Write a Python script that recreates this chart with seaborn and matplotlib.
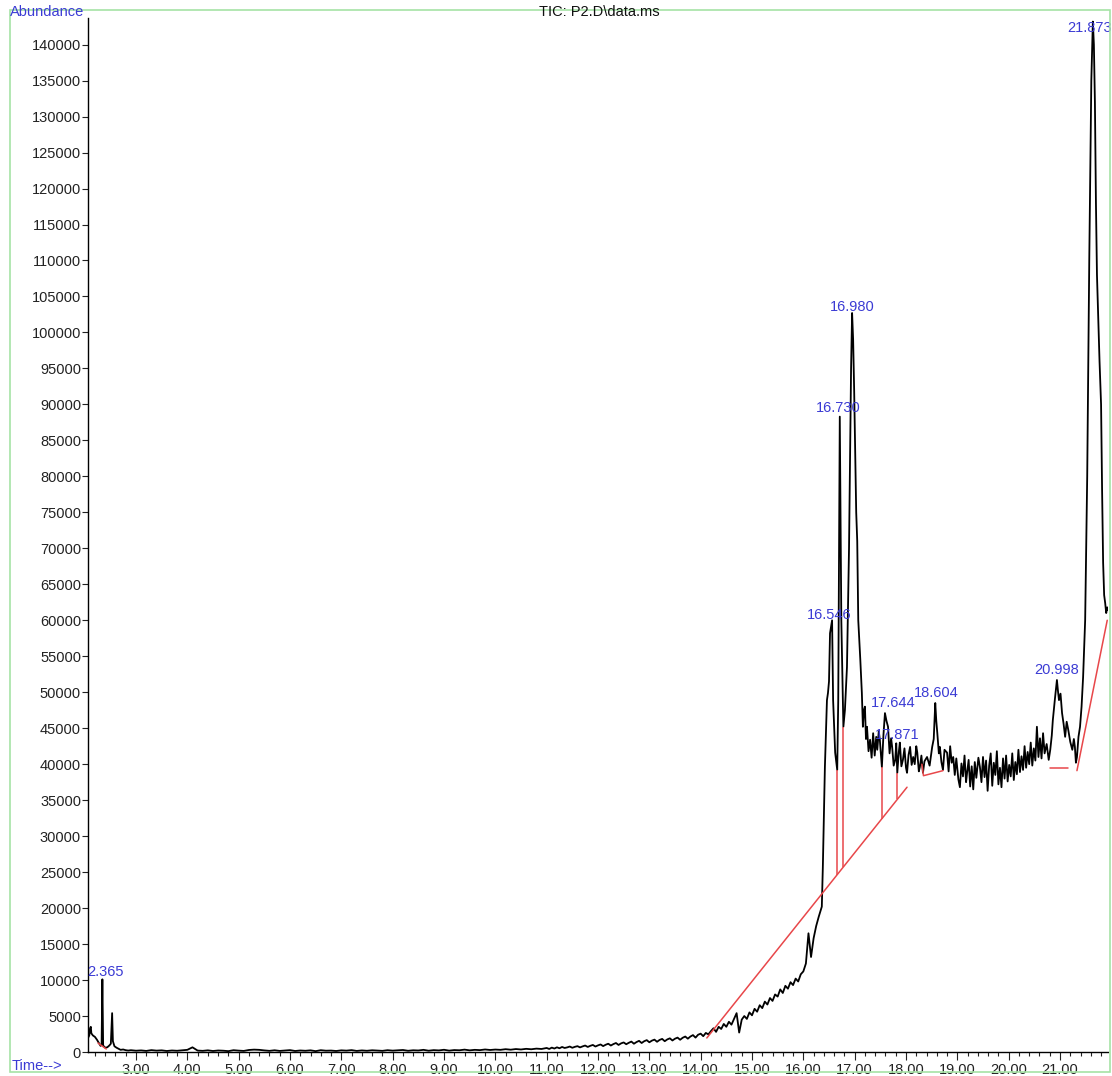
"""
TIC chromatogram P2.D (recreated from the picture)
"""
import numpy as np
import pandas as pd
import seaborn as sns
import matplotlib
matplotlib.use("Agg")
import matplotlib.pyplot as plt
from matplotlib.patches import Rectangle
from matplotlib.ticker import MultipleLocator, FormatStrFormatter

# ---- data ----
# start of the run (min, abundance)
front_t = [2.065, 2.09, 2.105, 2.12, 2.13, 2.16, 2.20, 2.24, 2.28, 2.31, 2.33, 2.345,
           2.36, 2.40, 2.44, 2.48, 2.51, 2.535, 2.55, 2.58, 2.62, 2.66, 2.70, 2.75,
           2.80, 2.85]
front_ab = [1950, 2300, 3300, 3500, 2600, 2300, 2100, 1700, 1200, 850, 1000, 10100,
            900, 600, 650, 900, 1150, 5400, 1500, 800, 600, 450, 300, 350,
            250, 200]

# flat part, one reading every 0.1 min from 2.9
flat_start, flat_step = 2.9, 0.1
flat_ab = [250, 180, 220, 150, 260, 190, 230, 140, 210, 170,
           240, 300, 650, 200, 160, 230, 140, 210, 180, 120,
           250, 190, 150, 280, 330, 300, 220, 160, 240, 150,
           200, 260, 140, 210, 170, 230, 120, 250, 180, 200,
           140, 230, 190, 260, 150, 220, 170, 240, 200, 160,
           250, 190, 230, 280, 170, 240, 210, 300, 180, 260,
           220, 310, 190, 270, 240, 330, 230, 300, 260, 350,
           280, 340, 300, 390, 320, 410, 350, 440, 380, 470,
           420]

# rising part, one reading every 0.05 min from 11.0
rise_start, rise_step = 11.0, 0.05
rise_ab = [560, 420, 610, 480, 650, 520, 700, 560, 640, 760,
           590, 720, 810, 640, 780, 900, 700, 860, 980, 760,
           920, 1050, 820, 1010, 1150, 900, 1100, 1250, 980, 1200,
           1330, 1080, 1280, 1450, 1150, 1380, 1550, 1250, 1500, 1650,
           1350, 1580, 1720, 1420, 1680, 1820, 1500, 1750, 1900, 1600,
           1850, 2000, 1700, 1980, 2150, 1850, 2150, 2350, 2000, 2400,
           2550, 2200, 2650, 2450, 2900, 3300, 2800, 3500, 3200, 3900,
           3500, 4200, 3800, 4600, 5400, 2700, 4500, 5000, 4600, 5500,
           5100, 6000, 5600, 6500, 6100, 7000, 6600, 7500, 7100, 8000,
           7700, 8700, 8200, 9200, 8800, 9700, 9300, 10200, 9800, 10800,
           11200, 12300, 16500, 13200, 15800, 17500]

# main peak cluster
peaks_t = [16.30, 16.33, 16.36, 16.38, 16.42, 16.46, 16.48, 16.50, 16.52, 16.56,
           16.58, 16.62, 16.66, 16.68, 16.71, 16.74, 16.78, 16.81, 16.85, 16.89,
           16.93, 16.95, 16.97, 16.99, 17.03, 17.05, 17.07, 17.11, 17.14, 17.16,
           17.18, 17.20, 17.22, 17.24, 17.27, 17.30, 17.33, 17.36, 17.39, 17.42,
           17.44, 17.47, 17.49, 17.53, 17.56, 17.59, 17.62, 17.65, 17.68, 17.71,
           17.73, 17.76, 17.79, 17.81, 17.83, 17.86, 17.88, 17.91, 17.94, 17.97,
           18.00, 18.02, 18.05, 18.08, 18.11, 18.14, 18.17, 18.20, 18.22, 18.25,
           18.27, 18.30, 18.33, 18.36, 18.41, 18.46, 18.51, 18.54, 18.57, 18.59,
           18.61, 18.64, 18.66, 18.69, 18.72, 18.75, 18.80, 18.83, 18.86, 18.89,
           18.92, 18.95, 18.98, 19.02, 19.05, 19.08, 19.11, 19.14, 19.17, 19.19,
           19.22, 19.25, 19.28, 19.31, 19.34, 19.37, 19.41, 19.44]
peaks_ab = [18800, 19500, 20200, 25700, 39600, 48900, 49900, 51500, 58200, 60000,
            48900, 41600, 39200, 48900, 88300, 60000, 45200, 47500, 53500, 70000,
            95000, 102700, 99000, 92000, 75000, 71000, 60000, 54500, 49900, 45200,
            47500, 48000, 43500, 45200, 41800, 43400, 40900, 44300, 41200, 43800,
            42000, 44600, 43400, 39600, 44000, 47100, 46000, 45200, 41500, 43600,
            42400, 39800, 40600, 42900, 38800, 41700, 43000, 39700, 40600, 42200,
            39500, 38800, 41300, 42400, 39900, 41000, 40000, 42500, 41600, 39000,
            39600, 41200, 38800, 40400, 41000, 39800, 42400, 43500, 48500, 46000,
            44300, 41500, 42400, 40300, 39200, 42000, 41600, 39000, 42500, 40200,
            41000, 38500, 40800, 37900, 36800, 40100, 38300, 41200, 37500, 38800,
            40600, 36900, 39700, 36500, 40300, 38100, 40900, 39600]

# plateau, one reading every 0.03 min from 19.47
plat_start, plat_step = 19.47, 0.03
plat_ab = [37500, 41000, 38200, 40500, 36300, 39800, 41500, 37000, 40200, 38500,
           41800, 37200, 39500, 36800, 40800, 38000, 41200, 37600, 39900, 38300,
           41500, 37800, 40300, 38600, 42000, 38900, 41100, 39200, 42500, 39500,
           41700, 40000, 43000, 39800, 42200, 40500, 45200, 41000, 43600, 40800,
           44300, 41500]

# end of the run
end_t = [20.74, 20.78, 20.81, 20.84, 20.86, 20.90, 20.94, 20.96, 20.98, 21.01,
         21.04, 21.07, 21.10, 21.13, 21.16, 21.20, 21.24, 21.27, 21.29, 21.31,
         21.33, 21.36, 21.39, 21.42, 21.45, 21.49, 21.53, 21.57, 21.61, 21.64,
         21.66, 21.68, 21.70, 21.72, 21.75, 21.77, 21.80, 21.82, 21.84, 21.86,
         21.88, 21.90, 21.92, 21.935]
end_ab = [42800, 40600, 42000, 44000, 46100, 49000, 51700, 50200, 48900, 49800,
          47100, 45600, 43800, 45900, 44800, 43100, 42000, 43500, 42400, 40200,
          41000, 43800, 45200, 48000, 52100, 60000, 80000, 110000, 135000, 143200,
          140000, 132000, 118000, 108000, 101000, 96000, 90000, 78000, 68000, 63500,
          62400, 61000, 61800, 61400]

# integration baselines (red)
base_t = [[2.26, 2.42], [14.12, 18.02], [18.31, 18.34, 18.72], [20.81, 21.16], [21.33, 21.92]]
base_ab = [[1250, 420], [1950, 36800], [40000, 38400, 39100], [39400, 39400], [39100, 60000]]
drop_t = [16.66, 16.78, 17.53, 17.83]
drop_top = [39200, 45200, 39600, 38800]
drop_bottom = [24650, 25700, 32400, 35100]

# peak labels
peak_labels = ['2.365', '16.546', '16.730', '16.980', '17.644', '17.871', '18.604', '20.998', '21.873']
peak_t = [2.40, 16.51, 16.68, 16.96, 17.75, 17.83, 18.59, 20.94, 21.58]
peak_ab = [11100, 60700, 89500, 103500, 48500, 44100, 49900, 53100, 142300]

BLUE = '#3b3bd4'
RED = '#e8474a'

# ---- assemble the trace ----
def regular(start, step, values):
    return list(np.round(start + step * np.arange(len(values)), 3))

tic = pd.DataFrame({
    'time': front_t + regular(flat_start, flat_step, flat_ab)
            + regular(rise_start, rise_step, rise_ab) + peaks_t
            + regular(plat_start, plat_step, plat_ab) + end_t,
    'abundance': front_ab + flat_ab + rise_ab + peaks_ab + plat_ab + end_ab,
})

sns.set_style('ticks')
plt.rcParams['font.family'] = ['Liberation Sans', 'DejaVu Sans']

fig = plt.figure(figsize=(11.12, 10.76), dpi=100)
ax = fig.add_axes([88 / 1112, 1 - 1052 / 1076, 1020 / 1112, 1034 / 1076])

sns.lineplot(data=tic, x='time', y='abundance', sort=False, estimator=None,
             color='black', linewidth=1.3, ax=ax)

for bt, ba in zip(base_t, base_ab):
    ax.plot(bt, ba, color=RED, linewidth=1.1)
ax.vlines(drop_t, drop_bottom, drop_top, color=RED, linewidth=1.1)

for lab, t, a in zip(peak_labels, peak_t, peak_ab):
    ax.text(t, a, lab, color=BLUE, fontsize=10.5, ha='center', va='center',
            clip_on=False)

ax.set_xlim(2.065, 21.935)
ax.set_ylim(0, 143700)
ax.set_yticks(np.arange(0, 140001, 5000))
ax.xaxis.set_major_locator(MultipleLocator(1.0))
ax.xaxis.set_minor_locator(MultipleLocator(0.2))
ax.xaxis.set_major_formatter(FormatStrFormatter('%.2f'))
ax.set_xticks([t for t in range(3, 22)])
ax.tick_params(axis='both', labelsize=10.5, colors='#222222', width=0.8)
ax.tick_params(axis='x', which='major', length=6, pad=2)
ax.tick_params(axis='x', which='minor', length=3, width=0.8, color='#222222')
ax.tick_params(axis='y', length=4, pad=1)
ax.set_xlabel('')
ax.set_ylabel('')
for side in ['top', 'right']:
    ax.spines[side].set_visible(False)
for side in ['left', 'bottom']:
    ax.spines[side].set_color('black')
    ax.spines[side].set_linewidth(1.0)

# labels around the plot
fig.text(10 / 1112, 1 - 12 / 1076, 'Abundance', color=BLUE, fontsize=10.5,
         ha='left', va='center')
fig.text(12 / 1112, 1 - 1066 / 1076, 'Time-->', color=BLUE, fontsize=10.5,
         ha='left', va='center')
fig.text(599 / 1112, 1 - 12 / 1076, 'TIC: P2.D\\data.ms', color='#111111',
         fontsize=10.5, ha='center', va='center')

# light green frame
fig.add_artist(Rectangle((10 / 1112, 4 / 1076), 1100 / 1112, 1062 / 1076,
                         transform=fig.transFigure, fill=False,
                         edgecolor='#a6e3a6', linewidth=1.2))

fig.savefig('out.png', dpi=100)
